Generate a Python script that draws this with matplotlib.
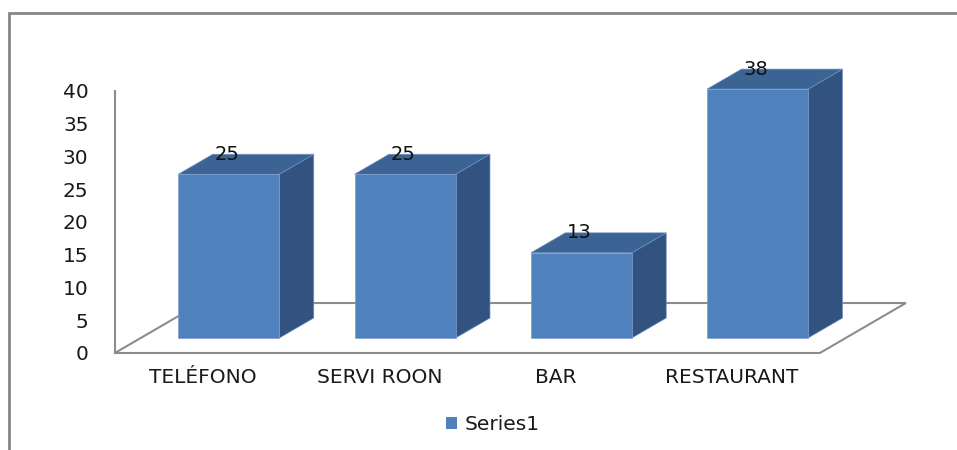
import matplotlib
matplotlib.use('Agg')
import matplotlib.pyplot as plt
from matplotlib.patches import Polygon, Rectangle, Patch

categories = ['TELÉFONO', 'SERVI ROON', 'BAR', 'RESTAURANT']
values = [25, 25, 13, 38]
yticks = [0, 5, 10, 15, 20, 25, 30, 35, 40]
series_name = 'Series1'

# fake 3d geometry, in data units (x: categories, y: values)
depth_dx = 0.488   # floor depth shift along x
depth_dy = 7.63    # floor depth shift along y
bar_front = 0.3    # bar front plane as a fraction of floor depth
bar_back = 0.7
bar_w = 0.573

c_front = '#4f81bd'
c_top = '#3b6394'
c_side = '#32537f'
c_grid = '#8c8c8c'
c_text = '#1a1a1a'

fig = plt.figure(figsize=(9.57, 4.5), dpi=100)
ax = fig.add_axes([0, 0, 1, 1])
ax.set_xlim(-1.152, 4.278)
ax.set_ylim(-14.81, 53.89)
ax.patch.set_visible(False)

# axis: left spine as the vertical wall line
for s in ['top', 'right', 'bottom']:
    ax.spines[s].set_visible(False)
ax.spines['left'].set_position(('data', -0.5))
ax.spines['left'].set_bounds(0, 40)
ax.spines['left'].set_color(c_grid)
ax.spines['left'].set_linewidth(1.5)
ax.set_xticks([])
ax.set_yticks(yticks)
ax.tick_params(axis='y', length=0, pad=19, labelsize=14.5, labelcolor=c_text)

# floor
n = len(categories)
floor = Polygon([(-0.5, 0), (n - 0.5, 0), (n - 0.5 + depth_dx, depth_dy),
                 (-0.5 + depth_dx, depth_dy)], closed=True,
                facecolor='none', edgecolor=c_grid, lw=1.5, zorder=1)
ax.add_patch(floor)

# bars
fx, fy = bar_front * depth_dx, bar_front * depth_dy
ddx = (bar_back - bar_front) * depth_dx
ddy = (bar_back - bar_front) * depth_dy
for i, v in enumerate(values):
    x0 = i + fx - bar_w / 2
    x1 = i + fx + bar_w / 2
    b = fy
    side = Polygon([(x1, b), (x1 + ddx, b + ddy), (x1 + ddx, b + ddy + v), (x1, b + v)],
                   facecolor=c_side, edgecolor='#6f8fbf', lw=0.5, zorder=3)
    top = Polygon([(x0, b + v), (x1, b + v), (x1 + ddx, b + v + ddy), (x0 + ddx, b + v + ddy)],
                  facecolor=c_top, edgecolor='#6f8fbf', lw=0.5, zorder=3)
    front = Rectangle((x0, b), bar_w, v, facecolor=c_front, edgecolor='#7f9fcf', lw=0.5, zorder=4)
    ax.add_patch(side)
    ax.add_patch(top)
    ax.add_patch(front)
    ax.text(i + fx - 0.01, b + v + ddy, str(v), ha='center', va='center', fontsize=14,
            color='#111111', zorder=5)

for i, c in enumerate(categories):
    ax.text(i, -3.8, c, ha='center', va='center', fontsize=14.5, color=c_text)

# legend
handle = Patch(facecolor=c_front, edgecolor='none')
fig.legend([handle], [series_name], loc='center', bbox_to_anchor=(0.515, 0.056),
           frameon=False, fontsize=14.5, handlelength=0.55, handleheight=0.55,
           handletextpad=0.4, labelcolor=c_text)

# chart area border (only left and top edges are in view)
fig.add_artist(Rectangle((9 / 957, -0.05), 1.1, 1 - 13 / 450 + 0.05, transform=fig.transFigure,
                         fill=False, edgecolor='#868686', lw=2, clip_on=False))

fig.savefig('out.png', dpi=100)
